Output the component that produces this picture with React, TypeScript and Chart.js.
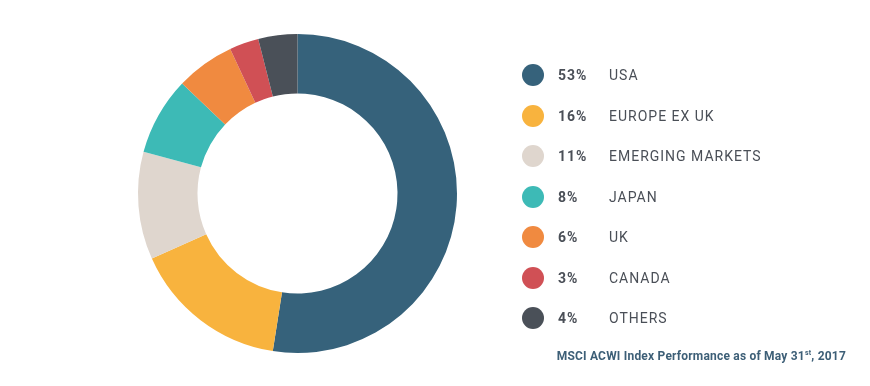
import React, { useEffect, useRef } from "react";
import { Chart, registerables } from "chart.js";

Chart.register(...registerables);

const categories = ["USA", "EUROPE EX UK", "EMERGING MARKETS", "JAPAN", "UK", "CANADA", "OTHERS"];
const values = [53, 16, 11, 8, 6, 3, 4];
const colors = ["#36627b", "#f8b33e", "#dfd6ce", "#3dbab6", "#f08a40", "#d05055", "#4a5058"];

export default function App() {
  const ref = useRef<HTMLCanvasElement | null>(null);

  useEffect(() => {
    document.body.style.margin = "0";
    if (!ref.current) return;
    const chart = new Chart(ref.current, {
      type: "doughnut",
      data: {
        labels: categories,
        datasets: [
          {
            data: values,
            backgroundColor: colors,
            borderWidth: 0,
          },
        ],
      },
      options: {
        animation: false,
        responsive: false,
        cutout: "62.7%",
        layout: { padding: { left: 138, top: 34, right: 413, bottom: 33 } },
        plugins: { legend: { display: false }, tooltip: { enabled: false } },
      },
    });
    return () => chart.destroy();
  }, []);

  return (
    <div style={{ position: "relative", width: 870, height: 386, background: "#fff", overflow: "hidden" }}>
      <canvas ref={ref} width={870} height={386} style={{ position: "absolute", left: 0, top: 0 }} />
      {categories.map((c, i) => (
        <div
          key={c}
          style={{
            position: "absolute",
            left: 522,
            top: 75 + i * 40.5 - 11,
            height: 22,
            display: "flex",
            alignItems: "center",
            fontFamily: "Roboto, sans-serif",
            fontSize: 14,
            letterSpacing: 1,
            color: "#4a4f57",
          }}
        >
          <span
            style={{
              width: 22,
              height: 22,
              borderRadius: "50%",
              background: colors[i],
              display: "inline-block",
            }}
          />
          <span style={{ position: "absolute", left: 36, fontWeight: 700, whiteSpace: "nowrap" }}>{values[i]}%</span>
          <span style={{ position: "absolute", left: 87, whiteSpace: "nowrap" }}>{c}</span>
        </div>
      ))}
      <div
        style={{
          position: "absolute",
          right: 24,
          top: 349,
          fontFamily: "Roboto, sans-serif",
          fontSize: 12,
          letterSpacing: 0.2,
          fontWeight: 700,
          color: "#3d5f77",
          whiteSpace: "nowrap",
        }}
      >
        MSCI ACWI Index Performance as of May 31<sup style={{ fontSize: 7 }}>st</sup>, 2017
      </div>
    </div>
  );
}
